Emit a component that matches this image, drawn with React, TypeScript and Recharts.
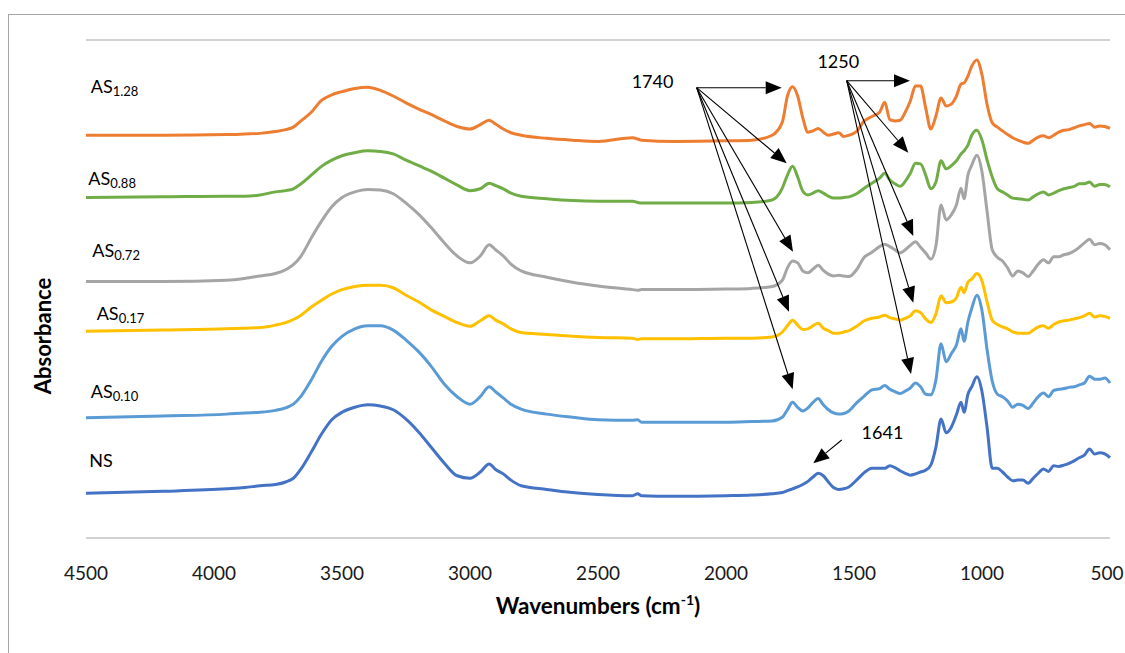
import React from 'react';
import { LineChart, Line, XAxis, YAxis, CartesianGrid, ReferenceLine, ReferenceDot } from 'recharts';

const FONT = "Lato, 'Open Sans', sans-serif";

const WAVENUMBERS = [4500, 4200, 3950, 3880, 3820, 3760, 3720, 3690, 3660, 3620,
  3580, 3540, 3500, 3450, 3400, 3350, 3300, 3250, 3200, 3150,
  3100, 3050, 3000, 2960, 2925, 2900, 2870, 2840, 2800, 2700,
  2600, 2500, 2365, 2345, 2330, 2200, 2000, 1900, 1820, 1780,
  1760, 1740, 1720, 1700, 1680, 1660, 1640, 1620, 1600, 1580,
  1560, 1540, 1520, 1490, 1460, 1430, 1400, 1380, 1360, 1340,
  1320, 1300, 1280, 1260, 1240, 1220, 1200, 1180, 1160, 1140,
  1120, 1100, 1082, 1070, 1055, 1040, 1020, 1000, 980, 960,
  940, 920, 900, 880, 860, 840, 820, 800, 780, 760,
  740, 720, 700, 680, 660, 640, 620, 600, 580, 560,
  540, 520, 500];

const AS_128 = [6.47, 6.47, 6.48, 6.49, 6.50, 6.53, 6.56, 6.60, 6.70, 6.84,
  7.03, 7.12, 7.17, 7.22, 7.24, 7.19, 7.10, 6.99, 6.89, 6.80,
  6.70, 6.61, 6.57, 6.64, 6.71, 6.65, 6.57, 6.51, 6.47, 6.42,
  6.39, 6.37, 6.43, 6.41, 6.39, 6.37, 6.38, 6.39, 6.47, 6.68,
  7.10, 7.25, 7.10, 6.75, 6.52, 6.54, 6.58, 6.52, 6.47, 6.49,
  6.51, 6.45, 6.47, 6.53, 6.70, 6.77, 6.84, 7.00, 6.72, 6.70,
  6.71, 6.84, 7.02, 7.26, 7.26, 6.91, 6.57, 6.78, 7.07, 6.94,
  6.97, 7.10, 7.29, 7.31, 7.42, 7.58, 7.68, 7.44, 6.96, 6.67,
  6.60, 6.54, 6.48, 6.43, 6.39, 6.36, 6.34, 6.39, 6.44, 6.46,
  6.43, 6.47, 6.52, 6.55, 6.56, 6.59, 6.62, 6.64, 6.66, 6.60,
  6.62, 6.61, 6.58];

const AS_088 = [5.47, 5.48, 5.49, 5.49, 5.51, 5.56, 5.58, 5.61, 5.69, 5.83,
  5.97, 6.07, 6.14, 6.19, 6.22, 6.21, 6.17, 6.07, 5.98, 5.89,
  5.78, 5.67, 5.58, 5.61, 5.70, 5.66, 5.61, 5.54, 5.49, 5.45,
  5.42, 5.41, 5.41, 5.39, 5.38, 5.38, 5.38, 5.39, 5.43, 5.62,
  5.83, 5.97, 5.80, 5.57, 5.51, 5.54, 5.58, 5.54, 5.49, 5.46,
  5.46, 5.47, 5.48, 5.53, 5.62, 5.70, 5.78, 5.86, 5.75, 5.69,
  5.65, 5.73, 5.86, 6.02, 6.01, 5.83, 5.61, 5.72, 6.06, 5.93,
  5.98, 6.06, 6.17, 6.22, 6.31, 6.47, 6.55, 6.39, 6.07, 5.80,
  5.61, 5.56, 5.51, 5.46, 5.45, 5.44, 5.43, 5.48, 5.53, 5.56,
  5.51, 5.54, 5.58, 5.61, 5.63, 5.65, 5.69, 5.69, 5.72, 5.65,
  5.68, 5.68, 5.64];

const AS_072 = [4.12, 4.12, 4.14, 4.17, 4.21, 4.25, 4.31, 4.39, 4.53, 4.82,
  5.09, 5.32, 5.47, 5.56, 5.60, 5.59, 5.53, 5.38, 5.20, 4.98,
  4.74, 4.53, 4.42, 4.53, 4.71, 4.63, 4.53, 4.40, 4.29, 4.19,
  4.11, 4.05, 3.99, 3.98, 3.99, 3.99, 4.00, 4.01, 4.04, 4.14,
  4.34, 4.45, 4.42, 4.29, 4.26, 4.32, 4.38, 4.30, 4.24, 4.21,
  4.22, 4.21, 4.20, 4.31, 4.51, 4.59, 4.68, 4.72, 4.68, 4.63,
  4.58, 4.63, 4.70, 4.76, 4.67, 4.58, 4.48, 4.69, 5.35, 5.11,
  5.19, 5.35, 5.62, 5.45, 5.83, 5.99, 6.15, 5.88, 5.24, 4.63,
  4.51, 4.45, 4.34, 4.21, 4.29, 4.26, 4.20, 4.29, 4.40, 4.47,
  4.42, 4.52, 4.52, 4.55, 4.57, 4.61, 4.67, 4.74, 4.80, 4.71,
  4.73, 4.71, 4.63];

const AS_017 = [3.32, 3.34, 3.36, 3.37, 3.38, 3.42, 3.46, 3.51, 3.58, 3.71,
  3.82, 3.92, 3.99, 4.04, 4.06, 4.06, 4.02, 3.90, 3.79, 3.66,
  3.56, 3.46, 3.40, 3.49, 3.57, 3.50, 3.44, 3.36, 3.30, 3.27,
  3.24, 3.22, 3.21, 3.19, 3.20, 3.20, 3.21, 3.21, 3.23, 3.31,
  3.41, 3.50, 3.42, 3.35, 3.36, 3.41, 3.45, 3.37, 3.33, 3.29,
  3.29, 3.31, 3.33, 3.40, 3.49, 3.53, 3.55, 3.58, 3.54, 3.52,
  3.50, 3.53, 3.57, 3.65, 3.62, 3.52, 3.46, 3.60, 3.89, 3.78,
  3.79, 3.86, 4.03, 3.94, 4.11, 4.16, 4.25, 4.13, 3.79, 3.50,
  3.43, 3.39, 3.36, 3.31, 3.29, 3.29, 3.29, 3.34, 3.39, 3.41,
  3.37, 3.43, 3.47, 3.49, 3.50, 3.52, 3.54, 3.57, 3.61, 3.55,
  3.57, 3.56, 3.53];

const AS_010 = [1.93, 1.96, 1.99, 2.01, 2.02, 2.05, 2.09, 2.15, 2.28, 2.54,
  2.84, 3.08, 3.24, 3.36, 3.41, 3.41, 3.34, 3.18, 2.99, 2.75,
  2.47, 2.27, 2.15, 2.27, 2.43, 2.35, 2.25, 2.15, 2.07, 1.99,
  1.94, 1.90, 1.89, 1.90, 1.86, 1.86, 1.86, 1.87, 1.88, 1.94,
  2.06, 2.18, 2.10, 2.04, 2.09, 2.18, 2.24, 2.14, 2.06, 2.01,
  1.99, 2.00, 2.04, 2.17, 2.28, 2.38, 2.40, 2.45, 2.39, 2.35,
  2.32, 2.36, 2.41, 2.49, 2.43, 2.31, 2.30, 2.54, 3.12, 2.83,
  2.96, 3.10, 3.36, 3.16, 3.47, 3.69, 3.90, 3.65, 3.02, 2.52,
  2.31, 2.27, 2.20, 2.10, 2.15, 2.13, 2.08, 2.17, 2.27, 2.33,
  2.27, 2.37, 2.39, 2.40, 2.42, 2.43, 2.46, 2.49, 2.60, 2.55,
  2.55, 2.57, 2.49];

const NS = [0.72, 0.75, 0.79, 0.81, 0.84, 0.86, 0.90, 0.96, 1.11, 1.38,
  1.67, 1.90, 2.02, 2.10, 2.14, 2.12, 2.06, 1.91, 1.70, 1.45,
  1.20, 1.00, 0.96, 1.06, 1.19, 1.10, 1.03, 0.93, 0.84, 0.78,
  0.73, 0.70, 0.68, 0.71, 0.68, 0.67, 0.68, 0.69, 0.71, 0.73,
  0.76, 0.79, 0.82, 0.86, 0.91, 0.98, 1.04, 1.00, 0.90, 0.81,
  0.78, 0.79, 0.82, 0.93, 1.05, 1.12, 1.12, 1.12, 1.16, 1.13,
  1.08, 1.04, 1.01, 1.03, 1.06, 1.09, 1.17, 1.46, 1.91, 1.69,
  1.78, 1.98, 2.18, 2.02, 2.31, 2.43, 2.59, 2.35, 1.77, 1.12,
  1.12, 1.06, 0.98, 0.92, 0.93, 0.93, 0.88, 0.96, 1.04, 1.11,
  1.07, 1.16, 1.15, 1.17, 1.20, 1.24, 1.29, 1.33, 1.43, 1.35,
  1.37, 1.35, 1.29];

const X_TICKS = [4500, 4000, 3500, 3000, 2500, 2000, 1500, 1000, 500];
const Y_GRID = [0, 1, 2, 3, 4, 5, 6, 7, 8];

const SERIES_KEYS = ['as128', 'as088', 'as072', 'as017', 'as010', 'ns'];
const SERIES_COLORS = ['#ED7D31', '#70AD47', '#A5A5A5', '#FFC000', '#5B9BD5', '#4472C4'];
const SERIES_VALUES = [AS_128, AS_088, AS_072, AS_017, AS_010, NS];

const LABEL_MAIN = ['AS', 'AS', 'AS', 'AS', 'AS', 'NS'];
const LABEL_SUB = ['1.28', '0.88', '0.72', '0.17', '0.10', ''];
const LABEL_W = [4481.6, 4491, 4475.4, 4458.2, 4481.6, 4487];
const LABEL_V = [7.144, 5.671, 4.519, 3.502, 2.244, 1.136];

const NOTE_TEXT = ['1740', '1250', '1641'];
const NOTE_W = [2287, 1561.3, 1388.7];
const NOTE_V = [7.224, 7.545, 1.59];

const ARROW_FROM_1740 = { x: 2114.5, y: 7.234 };
const ARROW_TIPS_1740 = [
  { x: 1782.4, y: 7.234 }, { x: 1762.9, y: 6.019 }, { x: 1738.3, y: 4.599 },
  { x: 1753.9, y: 3.635 }, { x: 1739.5, y: 2.389 },
];
const ARROW_FROM_1250 = { x: 1528.5, y: 7.346 };
const ARROW_TIPS_1250 = [
  { x: 1281.3, y: 7.346 }, { x: 1287.9, y: 6.19 }, { x: 1268.4, y: 4.851 },
  { x: 1268.4, y: 3.78 }, { x: 1277.3, y: 2.635 },
];
const ARROW_FROM_1641 = { x: 1548, y: 1.574 };
const ARROW_TIP_1641 = { x: 1659, y: 1.2 };

const rows = WAVENUMBERS.map((w, i) => {
  const r: Record<string, number> = { w };
  SERIES_KEYS.forEach((k, j) => { r[k] = SERIES_VALUES[j][i]; });
  return r;
});

const Arrow = (props: any) => {
  const { x1, y1, x2, y2 } = props;
  const dx = x2 - x1;
  const dy = y2 - y1;
  const len = Math.hypot(dx, dy) || 1;
  const ux = dx / len;
  const uy = dy / len;
  const hl = 16;
  const hw = 6.5;
  const bx = x2 - ux * hl;
  const by = y2 - uy * hl;
  const px = -uy;
  const py = ux;
  return (
    <g>
      <line x1={x1} y1={y1} x2={bx} y2={by} stroke="#000" strokeWidth={1.1} />
      <polygon
        points={`${x2},${y2} ${bx + px * hw},${by + py * hw} ${bx - px * hw},${by - py * hw}`}
        fill="#000"
      />
    </g>
  );
};

const makeSeriesLabel = (main: string, sub: string) => (p: any) => (
  <text x={p.cx} y={p.cy} fontFamily={FONT} fontSize={18} fill="#000">
    {main}
    {sub ? <tspan fontSize={13} dy={3}>{sub}</tspan> : null}
  </text>
);

const makeNote = (t: string) => (p: any) => (
  <text x={p.cx} y={p.cy} textAnchor="middle" fontFamily={FONT} fontSize={18} fill="#000">{t}</text>
);

const XTick = (props: any) => {
  const { x, y, payload } = props;
  const shift = payload.value === 500 ? -3 : 0;
  return (
    <text x={x + shift} y={y + 42} textAnchor="middle" fontFamily={FONT} fontSize={19} fill="#1a1a1a">
      {payload.value}
    </text>
  );
};

const XTitle = (props: any) => {
  const vb = props.viewBox || { x: 86, y: 538, width: 1024 };
  return (
    <text x={vb.x + vb.width / 2} y={vb.y + 76} textAnchor="middle" fontFamily={FONT} fontSize={22.5} fontWeight="bold" fill="#000">
      Wavenumbers (cm<tspan fontSize={14} dy={-9}>-1</tspan><tspan dy={9}>)</tspan>
    </text>
  );
};

export default function App() {
  return (
    <div style={{ position: 'fixed', left: 0, top: 0, width: 1125, height: 653, overflow: 'hidden', background: '#fff' }}>
      <div style={{ position: 'absolute', left: 8, top: 14, width: 1117, height: 639, borderLeft: '1px solid #a6a6a6', borderTop: '1px solid #a6a6a6', boxSizing: 'border-box' }} />
      <svg width={1125} height={653} style={{ position: 'absolute', left: 0, top: 0 }}>
        <text x={51} y={336} transform="rotate(-90 51 336)" textAnchor="middle" fontFamily={FONT} fontSize={22} fontWeight="bold" fill="#000">
          Absorbance
        </text>
      </svg>
      <div style={{ position: 'absolute', left: 0, top: 0 }}>
        <LineChart width={1125} height={653} data={rows} margin={{ top: 40, right: 15, left: 86, bottom: 85 }}>
          <CartesianGrid horizontal vertical={false} stroke="#a6a6a6" strokeWidth={1.2} />
          <XAxis
            type="number"
            dataKey="w"
            domain={[500, 4500]}
            reversed
            ticks={X_TICKS}
            interval={0}
            tickLine={false}
            axisLine={false}
            tickSize={0}
            tickMargin={0}
            height={30}
            tick={<XTick />}
            label={<XTitle />}
          />
          <YAxis
            type="number"
            domain={[0, 8]}
            ticks={Y_GRID}
            width={0}
            tick={false}
            tickLine={false}
            axisLine={false}
          />
          {SERIES_KEYS.map((k, j) => (
            <Line
              key={k}
              type="monotone"
              dataKey={k}
              stroke={SERIES_COLORS[j]}
              strokeWidth={3}
              dot={false}
              activeDot={false}
              isAnimationActive={false}
            />
          ))}
          {LABEL_MAIN.map((m, j) => (
            <ReferenceDot key={'lab' + j} x={LABEL_W[j]} y={LABEL_V[j]} r={0} shape={makeSeriesLabel(m, LABEL_SUB[j])} />
          ))}
          {NOTE_TEXT.map((t, j) => (
            <ReferenceDot key={'note' + j} x={NOTE_W[j]} y={NOTE_V[j]} r={0} shape={makeNote(t)} />
          ))}
          {ARROW_TIPS_1740.map((tip, j) => (
            <ReferenceLine key={'a1740' + j} segment={[ARROW_FROM_1740, tip]} shape={Arrow} />
          ))}
          {ARROW_TIPS_1250.map((tip, j) => (
            <ReferenceLine key={'a1250' + j} segment={[ARROW_FROM_1250, tip]} shape={Arrow} />
          ))}
          <ReferenceLine segment={[ARROW_FROM_1641, ARROW_TIP_1641]} shape={Arrow} />
        </LineChart>
      </div>
    </div>
  );
}
